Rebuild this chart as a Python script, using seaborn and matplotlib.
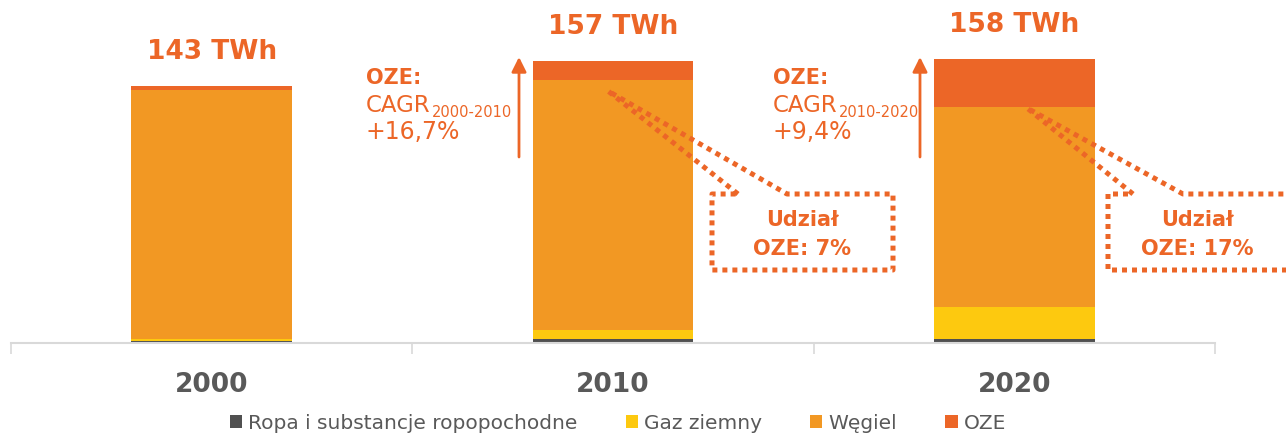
import pandas as pd
import matplotlib.pyplot as plt
import seaborn as sns
from matplotlib.patches import Patch

# dane (TWh)
years = ['2000', '2010', '2020']
ropa = [1.3, 2.0, 2.2]
gaz = [0.9, 5.2, 18.0]
wegiel = [138.6, 139.0, 110.9]
oze = [2.2, 10.8, 26.9]

series_names = ['Ropa i substancje ropopochodne', 'Gaz ziemny', 'Węgiel', 'OZE']
colors = ['#505050', '#FDC90F', '#F29823', '#EC6627']

cagr_labels = ['2000-2010', '2010-2020']
cagr_values = ['+16,7%', '+9,4%']
share_labels = ['OZE: 7%', 'OZE: 17%']

accent = '#EC6627'
grey_txt = '#595959'

df = pd.DataFrame({'rok': years, 'Ropa': ropa, 'Gaz': gaz, 'Wegiel': wegiel, 'OZE': oze})
df['c1'] = df['Ropa']
df['c2'] = df['c1'] + df['Gaz']
df['c3'] = df['c2'] + df['Wegiel']
df['c4'] = df['c3'] + df['OZE']

W, H = 1286, 435
fig = plt.figure(figsize=(W / 100, H / 100), dpi=100)
ax = fig.add_axes([11 / W, (H - 344) / H, 1204 / W, 344 / H])


def px(x, y):
    # pixel position -> figure fraction
    return x / W, 1 - y / H


# stacked bars: draw cumulative totals from the top down
for col, c in zip(['c4', 'c3', 'c2', 'c1'], colors[::-1]):
    sns.barplot(data=df, x='rok', y=col, color=c, width=0.4, saturation=1, ax=ax)

ax.set_xlim(-0.5, 2.5)
ax.set_ylim(0, 344 / 1.797)
ax.set_xlabel('')
ax.set_ylabel('')
ax.set_yticks([])
for s in ['top', 'right', 'left']:
    ax.spines[s].set_visible(False)
ax.spines['bottom'].set_color('#d9d9d9')
ax.spines['bottom'].set_linewidth(1.5)
ax.tick_params(axis='x', which='major', length=0, pad=20)
ax.set_xticks([-0.5, 0.5, 1.5, 2.5], minor=True)
ax.tick_params(axis='x', which='minor', length=8, width=1.2, color='#d9d9d9')
for lab in ax.get_xticklabels():
    lab.set_fontsize(19)
    lab.set_fontweight('bold')
    lab.set_color(grey_txt)

# totals above bars
for i, t in enumerate(df['c4']):
    ax.annotate(f'{t:.0f} TWh', (i, t), xytext=(0, 25), textcoords='offset points',
                ha='center', va='center', fontsize=19, fontweight='bold', color=accent)

# CAGR notes + arrows
for tx, ax_x, lbl, val in zip([366, 773], [519, 920], cagr_labels, cagr_values):
    fig.text(*px(tx, 78), 'OZE:', fontsize=15, fontweight='bold', color=accent, va='center')
    cagr = fig.text(*px(tx, 112), 'CAGR', fontsize=16.5, color=accent, va='baseline')
    ax.annotate(lbl, xy=(1, 0), xycoords=cagr, xytext=(1, 0), textcoords='offset points',
                fontsize=10.5, color=accent, ha='left', va='baseline')
    fig.text(*px(tx, 132), val, fontsize=17, color=accent, va='center')
    fig.add_artist(plt.Annotation('', xy=px(ax_x, 58), xytext=px(ax_x, 158),
                                  xycoords='figure fraction', textcoords='figure fraction',
                                  arrowprops=dict(arrowstyle='-|>', color=accent, lw=2,
                                                  mutation_scale=22, shrinkA=0, shrinkB=0)))

# dotted callouts with OZE share
callouts = [
    dict(p=(608, 92), w1=738, w2=787, left=712, right=893, text_x=802),
    dict(p=(1027, 109), w1=1133, w2=1183, left=1108, right=1300, text_x=1197),
]
for co, lbl in zip(callouts, share_labels):
    top, bot = 195, 271
    pts = [(co['w1'], top), co['p'], (co['w2'], top), (co['right'], top),
           (co['right'], bot), (co['left'], bot), (co['left'], top), (co['w1'], top)]
    xs, ys = zip(*[px(x, y) for x, y in pts])
    fig.add_artist(plt.Line2D(xs, ys, transform=fig.transFigure, color=accent, lw=3.6,
                              linestyle=(0, (1, 1)), dash_capstyle='butt', zorder=5))
    fig.text(*px(co['text_x'], 220), 'Udział', fontsize=15, fontweight='bold',
             color=accent, ha='center', va='center')
    fig.text(*px(co['text_x'], 249), lbl, fontsize=15, fontweight='bold',
             color=accent, ha='center', va='center')

# legend
handles = [Patch(facecolor=c, label=n) for c, n in zip(colors, series_names)]
leg = fig.legend(handles=handles, loc='center', bbox_to_anchor=px(618, 424), ncol=4,
                 frameon=False, fontsize=14.5, handlelength=0.6, handleheight=0.6,
                 handletextpad=0.3, columnspacing=2.4, borderpad=0)
for t in leg.get_texts():
    t.set_color(grey_txt)

fig.savefig('out.png', dpi=100)
